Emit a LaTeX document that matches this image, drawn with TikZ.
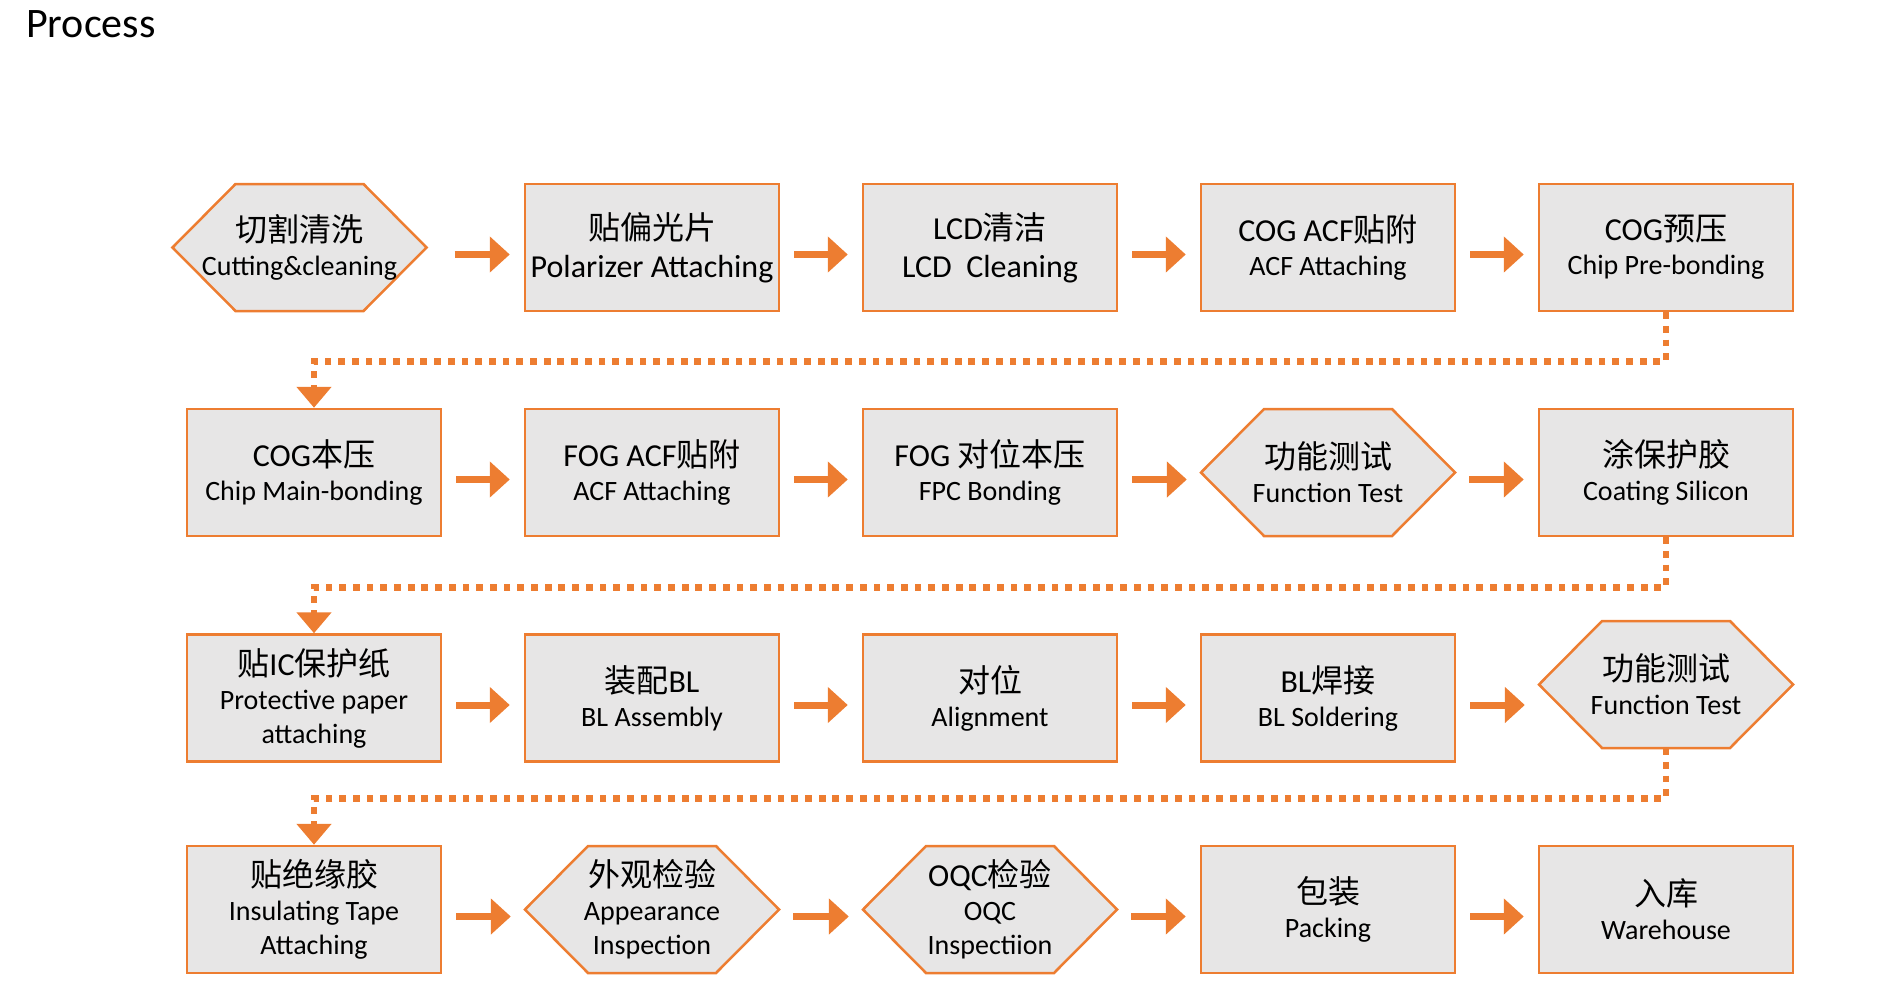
\documentclass[tikz,border=0pt]{standalone}
\usepackage{fontspec}
\setmainfont{Carlito}
\newfontfamily\cjk{Noto Sans CJK SC}
\usetikzlibrary{arrows.meta}
\definecolor{acc}{HTML}{ED7D31}
\definecolor{boxfill}{HTML}{E7E6E6}
\newcommand\zh[1]{{\cjk #1}}
\newcommand\bigline{\fontsize{32}{38}\selectfont}
\newcommand\myhex[4]{%
  \path[hexfill] (#2-127,#3) -- (#2-64,#3-63.5) -- (#2+64,#3-63.5) -- (#2+127,#3) -- (#2+64,#3+63.5) -- (#2-64,#3+63.5) -- cycle;
  \node[hexbox] (#1) at (#2,#3) {#4};}
\begin{document}
\begin{tikzpicture}[x=1pt,y=-1pt,
  stepbox/.style={draw=acc, line width=2.5pt, fill=boxfill, minimum width=254pt, minimum height=127pt, inner sep=0pt, align=center, font=\fontsize{28}{34}\selectfont},
  hexbox/.style={minimum width=254pt, minimum height=127pt, inner sep=0pt, align=center, font=\fontsize{28}{34}\selectfont},
  hexfill/.style={draw=acc, line width=2.5pt, fill=boxfill, line join=miter},
  flow/.style={draw=acc, line width=7pt, -{Triangle[width=35pt,length=20pt]}, shorten <=14pt, shorten >=14pt},
  link/.style={draw=acc, line width=6.8pt, dash pattern=on 6.8pt off 6.9pt, -{Triangle[width=34pt,length=21pt]}}
]
\useasboundingbox (0,0) rectangle (1897,1001);
\node[anchor=base west, inner sep=0pt, font=\fontsize{42}{50}\selectfont] (title) at (26,37) {Process};

% row 1
\myhex{h1}{299.5}{247.5}{{\bigline\zh{切割清洗}}\\Cutting\&cleaning}
\node[stepbox, font=\bigline] (b2) at (652,247.5) {\zh{贴偏光片}\\Polarizer Attaching};
\node[stepbox, font=\bigline] (b3) at (990,247.5) {LCD\zh{清洁}\\LCD\ \ Cleaning};
\node[stepbox] (b4) at (1328,247.5) {{\bigline COG ACF\zh{贴附}}\\ACF Attaching};
\node[stepbox] (b5) at (1666,247.5) {{\bigline COG\zh{预压}}\\Chip Pre-bonding};

% row 2
\node[stepbox] (c1) at (314,472.5) {{\bigline COG\zh{本压}}\\Chip Main-bonding};
\node[stepbox] (c2) at (652,472.5) {{\bigline FOG ACF\zh{贴附}}\\ACF Attaching};
\node[stepbox] (c3) at (990,472.5) {{\bigline FOG \zh{对位本压}}\\FPC Bonding};
\myhex{c4}{1328}{472.5}{{\bigline\zh{功能测试}}\\Function Test}
\node[stepbox] (c5) at (1666,472.5) {{\bigline\zh{涂保护胶}}\\Coating Silicon};

% row 3
\node[stepbox] (d1) at (314,698) {{\bigline\zh{贴}IC\zh{保护纸}}\\Protective paper\\attaching};
\node[stepbox] (d2) at (652,698) {{\bigline\zh{装配}BL}\\BL Assembly};
\node[stepbox] (d3) at (990,698) {{\bigline\zh{对位}}\\Alignment};
\node[stepbox] (d4) at (1328,698) {{\bigline BL\zh{焊接}}\\BL Soldering};
\myhex{d5}{1666}{684.5}{{\bigline\zh{功能测试}}\\Function Test}

% row 4
\node[stepbox] (e1) at (314,909.5) {{\bigline\zh{贴绝缘胶}}\\Insulating Tape\\Attaching};
\myhex{e2}{652}{909.5}{{\bigline\zh{外观检验}}\\Appearance\\Inspection}
\myhex{e3}{990}{909.5}{{\bigline OQC\zh{检验}}\\OQC\\Inspectiion}
\node[stepbox] (e4) at (1328,909.5) {{\bigline\zh{包装}}\\Packing};
\node[stepbox] (e5) at (1666,909.5) {{\bigline\zh{入库}}\\Warehouse};

% solid arrows
\draw[flow, shorten <=28pt] ([yshift=-7pt]h1.east) -- ([yshift=-7pt]h1.east -| b2.west);
\foreach \a/\b in {b2/b3,b3/b4,b4/b5,c1/c2,c2/c3,c3/c4,c4/c5,d1/d2,d2/d3,d3/d4,d4/d5,e1/e2,e2/e3,e3/e4,e4/e5}
  \draw[flow] ([yshift=-7pt]\a.east) -- ([yshift=-7pt]\a.east -| \b.west);

% dotted links
\draw[link] (b5.south) -- ++(0,49) -| (c1.north);
\draw[link] (c5.south) -- ++(0,50) -| (d1.north);
\draw[link] (d5.south) -- ++(0,50) -| (e1.north);
\end{tikzpicture}
\end{document}
